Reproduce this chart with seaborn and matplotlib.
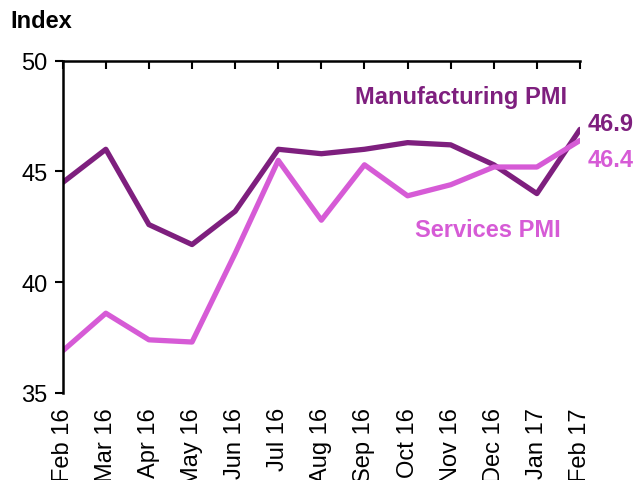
import matplotlib
matplotlib.use("Agg")
import matplotlib.pyplot as plt
import seaborn as sns
import pandas as pd

months = ["Feb 16", "Mar 16", "Apr 16", "May 16", "Jun 16", "Jul 16", "Aug 16",
          "Sep 16", "Oct 16", "Nov 16", "Dec 16", "Jan 17", "Feb 17"]
manufacturing = [44.5, 46.0, 42.6, 41.7, 43.2, 46.0, 45.8, 46.0, 46.3, 46.2, 45.3, 44.0, 46.9]
services = [36.9, 38.6, 37.4, 37.3, 41.3, 45.5, 42.8, 45.3, 43.9, 44.4, 45.2, 45.2, 46.4]
series_names = ["Manufacturing PMI", "Services PMI"]
colors = {"Manufacturing PMI": "#7E1F7E", "Services PMI": "#D65BD6"}
yticks = [35, 40, 45, 50]

sns.set_theme(style="white")
plt.rcParams["font.family"] = ["Liberation Sans", "DejaVu Sans"]
plt.rcParams["text.color"] = "black"
plt.rcParams["xtick.color"] = "black"
plt.rcParams["ytick.color"] = "black"

df = pd.concat([
    pd.DataFrame({"idx": range(len(months)), "value": manufacturing, "series": series_names[0]}),
    pd.DataFrame({"idx": range(len(months)), "value": services, "series": series_names[1]}),
])

fig = plt.figure(figsize=(6.38, 4.81), dpi=100)
ax = fig.add_axes([0.0983, 0.1809, 0.8108, 0.6909])

sns.lineplot(data=df, x="idx", y="value", hue="series", palette=colors,
             hue_order=series_names, linewidth=3.8, ax=ax, legend=False,
             sort=False)

ax.set_xlim(0, len(months) - 1)
ax.set_ylim(35, 50)
ax.set_yticks(yticks)
ax.set_xticks(range(len(months)))
ax.set_xticklabels(months, rotation=90, fontsize=17)
ax.tick_params(axis="y", labelsize=17, direction="out", length=6, width=1.5,
               left=True, color="black", labelcolor="black", pad=5)
ax.tick_params(axis="x", top=True, bottom=True, labelbottom=True, labeltop=False,
               direction="in", length=6, width=1.5, color="black",
               labelcolor="black", pad=10)
for t in ax.xaxis.get_major_ticks():
    t.tick1line.set_visible(False)
ax.set_xlabel("")
ax.set_ylabel("")
for s in ["bottom", "right"]:
    ax.spines[s].set_visible(False)
for s in ["top", "left"]:
    ax.spines[s].set_visible(True)
    ax.spines[s].set_color("black")
    ax.spines[s].set_linewidth(1.8)

ax.text(11.71, 48.4, "Manufacturing PMI", color=colors["Manufacturing PMI"],
        fontsize=17, fontweight="bold", ha="right", va="center")
ax.text(11.55, 42.4, "Services PMI", color=colors["Services PMI"],
        fontsize=17, fontweight="bold", ha="right", va="center")
ax.text(12.17, 47.15, f"{manufacturing[-1]:.1f}", color=colors["Manufacturing PMI"],
        fontsize=17, fontweight="bold", ha="left", va="center", clip_on=False)
ax.text(12.17, 45.56, f"{services[-1]:.1f}", color=colors["Services PMI"],
        fontsize=17, fontweight="bold", ha="left", va="center", clip_on=False)

fig.text(10 / 638, 1 - 22 / 481, "Index", fontsize=17, fontweight="bold",
         ha="left", va="center", color="black")

fig.savefig("out.png", dpi=100)
